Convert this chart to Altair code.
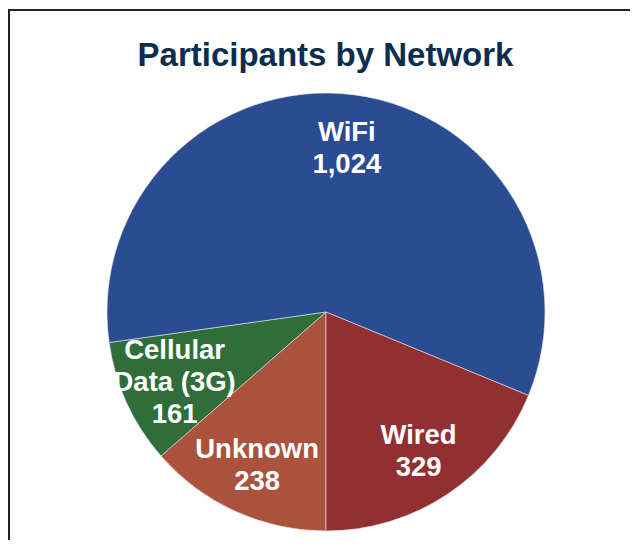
import textwrap
import math
import altair as alt
import pandas as pd

# Data
categories = ["Unknown", "Cellular Data (3G)", "WiFi", "Wired"]
participants = [238, 161, 1024, 329]
colors = ["#AA523C", "#2F6E39", "#2B4B92", "#922F33"]

title_text = "Participants by Network"

df = pd.DataFrame({
    "network": categories,
    "participants": participants,
    "order": list(range(len(categories))),
})
df["label"] = [textwrap.wrap(c, 10) + [f"{v:,}"] for c, v in zip(categories, participants)]
line_counts = sorted(set(len(l) for l in df["label"]))

W, H = 622, 532
CX, CY = 318, 304
R = 219
LH = 32
PI = math.pi

base = alt.Chart(df)

pie = base.mark_arc(radius=R, stroke="#E8E8E8", strokeWidth=0.6).encode(
    theta=alt.Theta("participants:Q", stack=True, scale=alt.Scale(range=[PI, 3 * PI])),
    order=alt.Order("order:Q"),
    color=alt.Color("network:N", scale=alt.Scale(domain=categories, range=colors), legend=None),
    x=alt.value(CX),
    y=alt.value(CY),
)

# label angle: middle of each slice (computed before any filtering)
label_base = base.transform_joinaggregate(
    total="sum(participants)"
).transform_window(
    cum="sum(participants)", sort=[alt.SortField("order")], frame=[None, 0]
).transform_calculate(
    mid="(datum.cum - datum.participants / 2) / datum.total",
    nlines="length(datum.label)",
)

label_layers = []
for n in line_counts:
    for i in range(n):
        label_layers.append(
            label_base.transform_filter(f"datum.nlines == {n}").transform_calculate(
                line=f"datum.label[{i}]"
            ).mark_text(
                radius=R * 0.76,
                font="Liberation Sans",
                fontSize=27.5,
                fontWeight="bold",
                color="white",
                align="center",
                baseline="middle",
                dy=(i - (n - 1) / 2) * LH + 2,
            ).encode(
                theta=alt.Theta("mid:Q", stack=None, scale=alt.Scale(domain=[0, 1], range=[PI, 3 * PI])),
                text="line:N",
                x=alt.value(CX),
                y=alt.value(CY),
            )
        )

labels = alt.layer(*label_layers)

frame = alt.Chart(pd.DataFrame({"a": [0]})).mark_rect(
    fill=None, stroke="#222222", strokeWidth=2
).encode(
    x=alt.value(1), y=alt.value(2), x2=alt.value(W + 40), y2=alt.value(H + 40)
)

chart = alt.layer(frame, pie, labels).resolve_scale(theta="independent").properties(
    width=W,
    height=H,
    padding=0,
    autosize=alt.AutoSizeParams(type="none"),
    title=alt.TitleParams(
        title_text,
        font="Liberation Sans",
        fontSize=33,
        fontWeight="bold",
        color="#0B2D4E",
        anchor="middle",
        frame="group",
        baseline="alphabetic",
        offset=0,
        dy=91,
        dx=6.5,
    ),
).configure_view(stroke=None)

chart.save("out.html", embed_options={"renderer": "svg", "actions": False})
